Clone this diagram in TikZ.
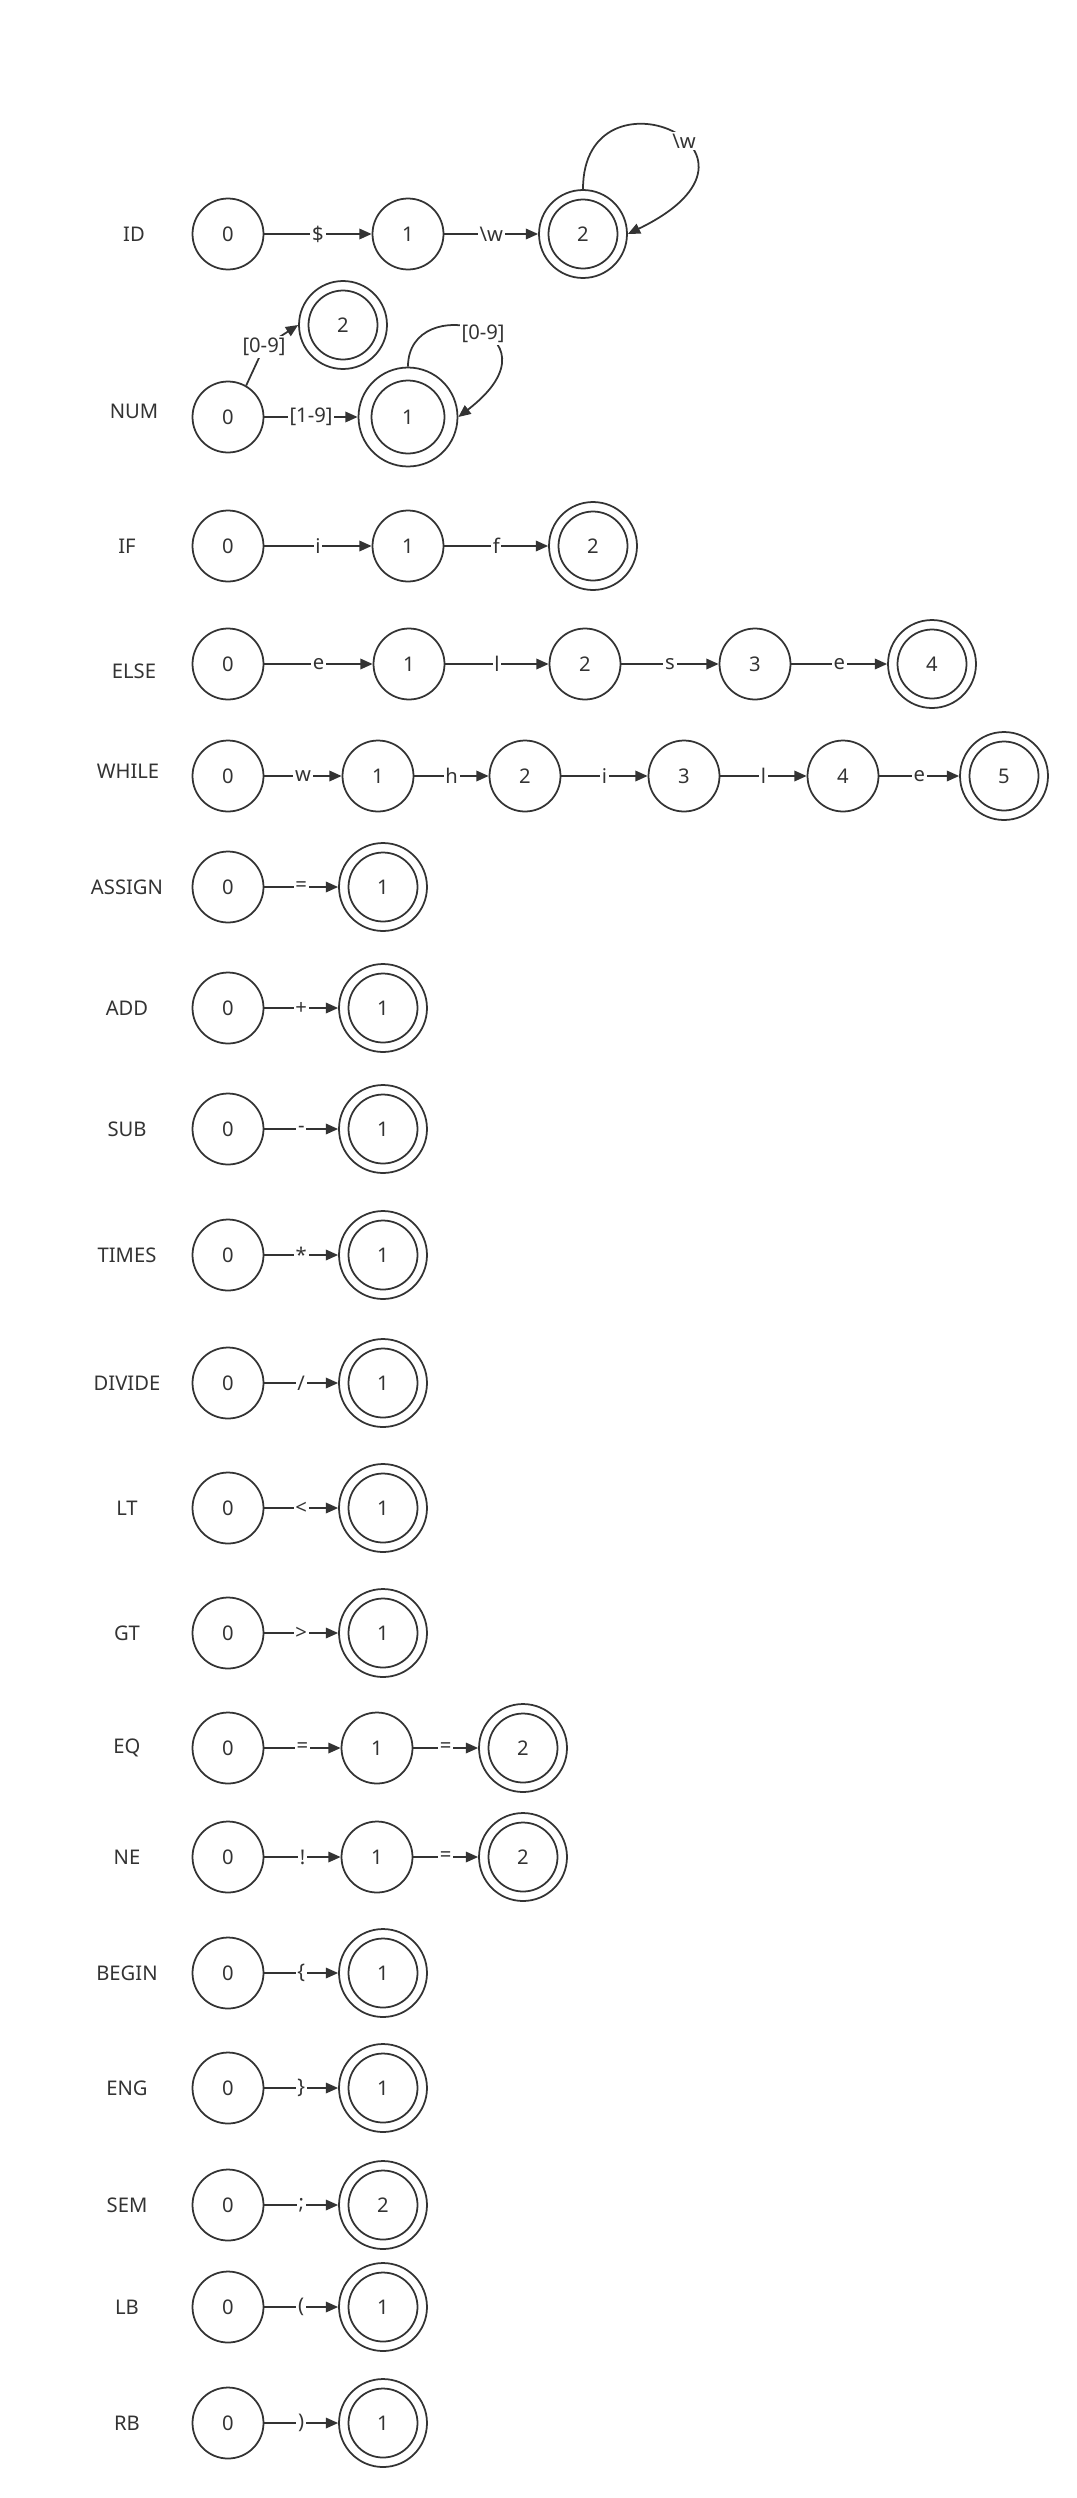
\documentclass[tikz,border=0pt]{standalone}
\usepackage{fontspec}
\setmainfont{Noto Sans}
\usetikzlibrary{arrows.meta}
\definecolor{ink}{HTML}{333333}

\begin{document}
\begin{tikzpicture}[x=0.02cm, y=-0.02cm, line width=1pt, color=ink,
    font=\fontsize{11.5}{13}\selectfont,
    state/.style={circle, draw, minimum size=1.42cm, inner sep=0pt},
    ring/.style={path picture={\draw[ink, line width=1pt]
        (path picture bounding box.center) circle (#1);}},
    accept/.style={state, minimum size=1.76cm, ring=0.69cm},
    tr/.style={-{Triangle[length=7pt, width=6pt]}},
    sym/.style={fill=white, inner sep=1pt}]
  \useasboundingbox (0,0) rectangle (1077,2498);

  % ID
  \node (id) at (134,234) {ID};
  \node[state] (id0) at (228,234) {0};
  \node[state] (id1) at (408,234) {1};
  \node[accept] (id2) at (583,234) {2};
  \draw[tr] (id0) -- node[sym] {\$} (id1);
  \draw[tr] (id1) -- node[sym] {\textbackslash w} (id2);
  \draw[tr] (id2.north) .. controls +(0,-130) and +(173,-84) ..
    node[sym, pos=0.58] {\textbackslash w} (id2.east);

  % NUM
  \node (num) at (134,411) {NUM};
  \node[state] (num0) at (228,417) {0};
  \node[state, minimum size=1.98cm, ring=0.73cm] (num1) at (408,417) {1};
  \node[accept] (num2) at (343,325) {2};
  \draw[tr] (num0) -- node[sym] {[1-9]} (num1);
  \draw[tr] (num0.60) -- (264,347) node[sym] {[0-9]} -- (num2.west);
  \draw[tr] (num1.north) .. controls +(0,-78) and +(113,-87) ..
    node[sym, pos=0.55] {[0-9]} (num1.east);

  % IF
  \node (if) at (127,546) {IF};
  \node[state] (if0) at (228,546) {0};
  \node[state] (if1) at (408,546) {1};
  \node[accept] (if2) at (593,546) {2};
  \draw[tr] (if0) -- node[sym] {i} (if1);
  \draw[tr] (if1) -- node[sym] {f} (if2);

  % ELSE
  \node (else) at (134,671) {ELSE};
  \node[state] (else0) at (228,664) {0};
  \node[state] (else1) at (409,664) {1};
  \node[state] (else2) at (585,664) {2};
  \node[state] (else3) at (755,664) {3};
  \node[accept] (else4) at (932,664) {4};
  \draw[tr] (else0) -- node[sym] {e} (else1);
  \draw[tr] (else1) -- node[sym] {l} (else2);
  \draw[tr] (else2) -- node[sym] {s} (else3);
  \draw[tr] (else3) -- node[sym] {e} (else4);

  % WHILE
  \node (while) at (128,771) {WHILE};
  \node[state] (while0) at (228,776) {0};
  \node[state] (while1) at (378,776) {1};
  \node[state] (while2) at (525,776) {2};
  \node[state] (while3) at (684,776) {3};
  \node[state] (while4) at (843,776) {4};
  \node[accept] (while5) at (1004,776) {5};
  \draw[tr] (while0) -- node[sym] {w} (while1);
  \draw[tr] (while1) -- node[sym] {h} (while2);
  \draw[tr] (while2) -- node[sym] {i} (while3);
  \draw[tr] (while3) -- node[sym] {l} (while4);
  \draw[tr] (while4) -- node[sym] {e} (while5);

  % one-symbol tokens
  \foreach \tok/\yy/\chr/\fin [count=\i] in {ASSIGN/887/=/1, ADD/1008/+/1,
      SUB/1129/-/1, TIMES/1255/*/1, DIVIDE/1383/{/}/1, LT/1508/</1,
      GT/1633/>/1, BEGIN/1973/\{/1, ENG/2088/\}/1, SEM/2205/;/2,
      LB/2307/{(}/1, RB/2423/{)}/1}
  {
    \node (t\i) at (127,\yy) {\tok};
    \node[state] (t\i-0) at (228,\yy) {0};
    \node[accept] (t\i-1) at (383,\yy) {\fin};
    \draw[tr] (t\i-0) -- node[sym] {\chr} (t\i-1);
  }

  % EQ
  \node (eq) at (127,1748) {EQ};
  \node[state] (eq0) at (228,1748) {0};
  \node[state] (eq1) at (377,1748) {1};
  \node[accept] (eq2) at (523,1748) {2};
  \draw[tr] (eq0) -- node[sym] {=} (eq1);
  \draw[tr] (eq1) -- node[sym] {=} (eq2);

  % NE
  \node (ne) at (127,1857) {NE};
  \node[state] (ne0) at (228,1857) {0};
  \node[state] (ne1) at (377,1857) {1};
  \node[accept] (ne2) at (523,1857) {2};
  \draw[tr] (ne0) -- node[sym] {!} (ne1);
  \draw[tr] (ne1) -- node[sym] {=} (ne2);
\end{tikzpicture}
\end{document}
